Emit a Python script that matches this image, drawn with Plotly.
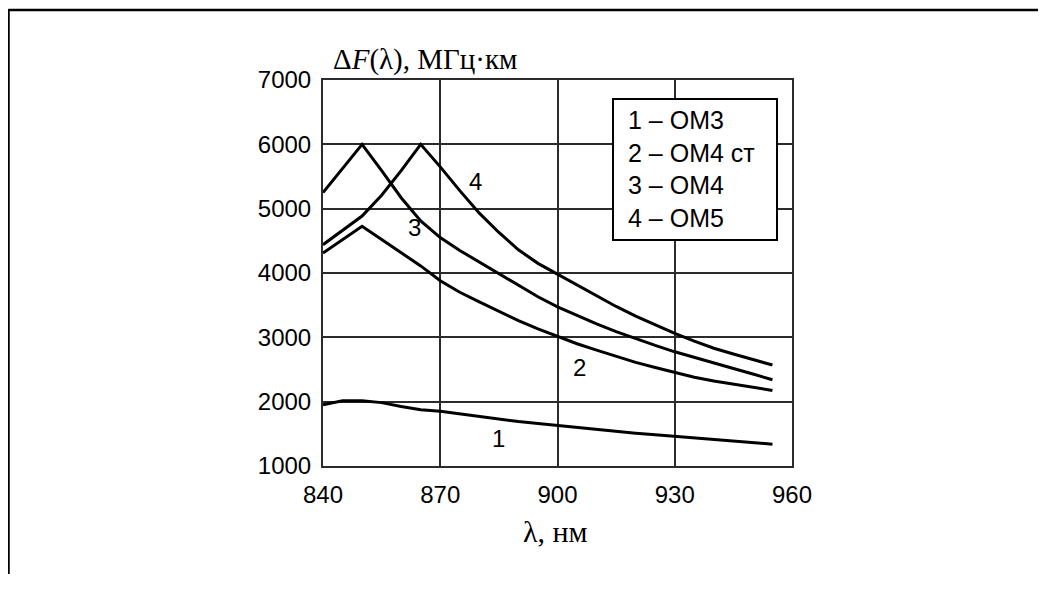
import plotly.graph_objects as go

# ---- data ----
wavelength_nm = [840, 845, 850, 855, 860, 865, 870, 875, 880, 885, 890, 895,
                 900, 905, 910, 915, 920, 925, 930, 935, 940, 945, 950, 955]

om3 = [1950, 2015, 2015, 1985, 1925, 1875, 1850, 1810, 1760, 1720, 1690, 1660,
       1630, 1595, 1560, 1535, 1510, 1485, 1460, 1435, 1410, 1385, 1360, 1340]
om4_st = [4310, 4520, 4725, 4520, 4315, 4110, 3880, 3700, 3550, 3400, 3260, 3130,
          3010, 2900, 2800, 2700, 2610, 2530, 2450, 2380, 2320, 2270, 2220, 2175]
om4 = [5250, 5625, 6000, 5590, 5170, 4810, 4550, 4350, 4170, 3980, 3800, 3630,
       3475, 3340, 3210, 3090, 2980, 2875, 2775, 2685, 2600, 2515, 2430, 2340]
om5 = [4440, 4660, 4885, 5210, 5590, 6000, 5650, 5280, 4930, 4630, 4360, 4150,
       3980, 3810, 3640, 3480, 3330, 3190, 3060, 2940, 2830, 2740, 2650, 2570]

curve_numbers = ["1", "2", "3", "4"]
legend_lines = ["1 – OM3", "2 – OM4 ст", "3 – OM4", "4 – OM5"]
x_ticks = [840, 870, 900, 930, 960]
y_ticks = [1000, 2000, 3000, 4000, 5000, 6000, 7000]

# ---- figure ----
OFF = 8   # page body margin
W, H = 1030, 566   # small enough to avoid page scrollbars
L, R, T, B = 323 - OFF, 792 - OFF, 80 - OFF, 466 - OFF   # plot area in figure pixels


def px(x):
    """page pixel x -> paper coordinate"""
    return (x - OFF - L) / (R - L)


def py(y):
    """page pixel y -> paper coordinate"""
    return (B - (y - OFF)) / (B - T)


fig = go.Figure()
for vals in (om3, om4_st, om4, om5):
    fig.add_trace(go.Scatter(x=wavelength_nm, y=vals, mode="lines",
                             line=dict(color="black", width=3),
                             showlegend=False, hoverinfo="skip"))

sans = "Liberation Sans, Arial, sans-serif"
serif = "Liberation Serif, Times New Roman, serif"
axis_common = dict(showgrid=True, gridcolor="#2b2b2b", gridwidth=2,
                   showline=True, mirror=True, linecolor="#2b2b2b", linewidth=2,
                   zeroline=False, ticks="",
                   tickfont=dict(family=sans, size=24, color="black"))

fig.update_layout(
    width=W, height=H,
    margin=dict(l=L, r=W - R, t=T, b=H - B, pad=0),
    paper_bgcolor="white", plot_bgcolor="white",
    xaxis=dict(range=[840, 960], tickvals=x_ticks, ticklabelstandoff=6, **axis_common),
    yaxis=dict(range=[1000, 7000], tickvals=y_ticks, ticklabelstandoff=5, **axis_common),
)

# curve number labels
label_pos = [(885, 1420), (905.6, 2536), (863.3, 4710), (879, 5424)]
for t, (lx, ly) in zip(curve_numbers, label_pos):
    fig.add_annotation(x=lx, y=ly, xref="x", yref="y", text=t, showarrow=False,
                       font=dict(family=sans, size=24, color="black"))

# legend box
fig.add_shape(type="rect", xref="paper", yref="paper",
              x0=px(613), x1=px(777), y0=py(240), y1=py(99),
              fillcolor="white", line=dict(color="black", width=2), layer="above")
fig.add_annotation(xref="paper", yref="paper", x=px(626), y=py(169),
                   xanchor="left", yanchor="middle", align="left",
                   text="<br>".join(legend_lines), showarrow=False,
                   font=dict(family=sans, size=25, color="black"))

# axis titles
fig.add_annotation(xref="paper", yref="paper", x=px(331), y=py(59),
                   xanchor="left", yanchor="middle", showarrow=False,
                   text="Δ<i>F</i>(λ), МГц·км",
                   font=dict(family=serif, size=29, color="black"))
fig.add_annotation(xref="paper", yref="paper", x=px(555), y=py(531),
                   xanchor="center", yanchor="middle", showarrow=False,
                   text="λ, нм",
                   font=dict(family=serif, size=30, color="black"))

# outer frame: only the top and left edges are visible in the reference
fig.add_shape(type="line", xref="paper", yref="paper",
              x0=px(8.5), x1=px(1060), y0=py(10), y1=py(10),
              line=dict(color="black", width=2.5), layer="above")
fig.add_shape(type="line", xref="paper", yref="paper",
              x0=px(8.5), x1=px(8.5), y0=py(9), y1=py(640),
              line=dict(color="black", width=2.5), layer="above")

fig.write_html("out.html")
